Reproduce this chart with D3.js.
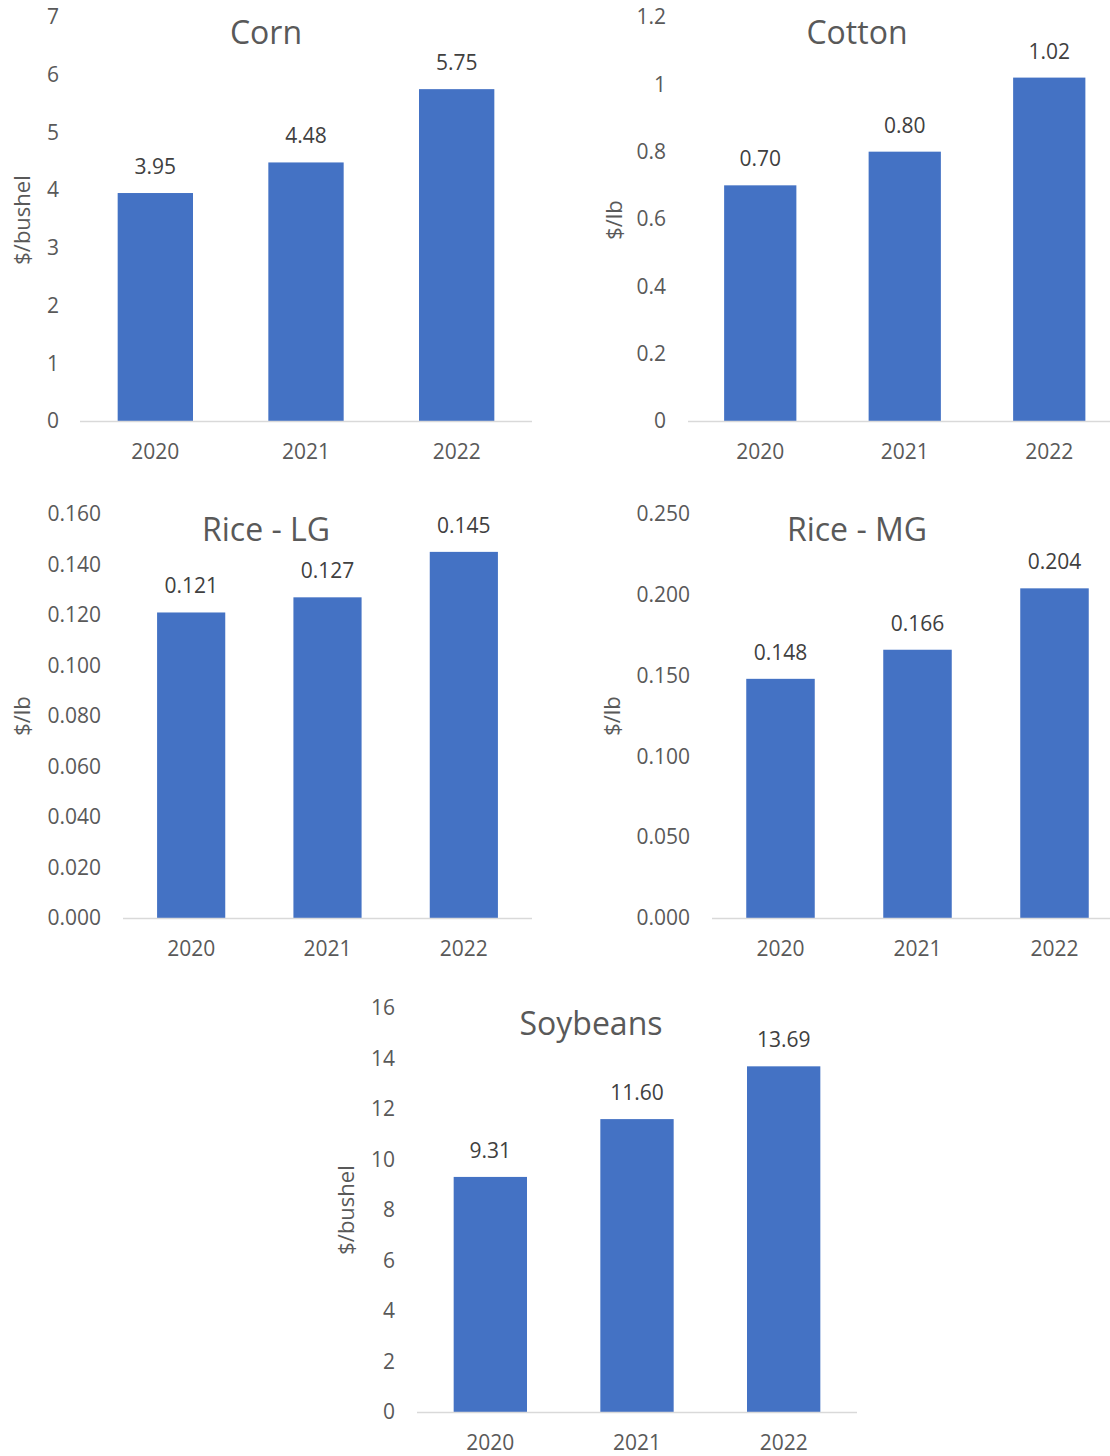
<!DOCTYPE html>
<html>
<head>
<meta charset="utf-8">
<script src="https://cdn.jsdelivr.net/npm/d3@7"></script>
<style>
  html, body { margin: 0; padding: 0; background: #ffffff; }
  svg { display: block; }
  text { font-family: "Open Sans", "Noto Sans", sans-serif; fill: #595959; }
</style>
</head>
<body>
<svg id="chart" width="1110" height="1456"></svg>
<script>
// Marketing-year prices by crop
const years = ["2020", "2021", "2022"];

const cornPrices = [3.95, 4.48, 5.75];
const cottonPrices = [0.70, 0.80, 1.02];
const riceLGPrices = [0.121, 0.127, 0.145];
const riceMGPrices = [0.148, 0.166, 0.204];
const soybeanPrices = [9.31, 11.60, 13.69];

const cornTicks = [0, 1, 2, 3, 4, 5, 6, 7];
const cottonTicks = [0, 0.2, 0.4, 0.6, 0.8, 1, 1.2];
const riceLGTicks = [0, 0.02, 0.04, 0.06, 0.08, 0.10, 0.12, 0.14, 0.16];
const riceMGTicks = [0, 0.05, 0.10, 0.15, 0.20, 0.25];
const soybeanTicks = [0, 2, 4, 6, 8, 10, 12, 14, 16];

const titles = ["Corn", "Cotton", "Rice - LG", "Rice - MG", "Soybeans"];
const units = ["$/bushel", "$/lb", "$/lb", "$/lb", "$/bushel"];

// Panel layout on the page
const panels = [
  { title: titles[0], unit: units[0], values: cornPrices, ticks: cornTicks,
    tickFmt: d3.format("d"), labelFmt: d3.format(".2f"),
    x0: 80, x1: 532, yZero: 421, yTop: 17, tickX: 59, unitX: 22, unitY: 220, titleX: 266, titleY: 33 },
  { title: titles[1], unit: units[1], values: cottonPrices, ticks: cottonTicks,
    tickFmt: d => String(+d.toFixed(1)), labelFmt: d3.format(".2f"),
    x0: 688, x1: 1121.5, yZero: 421, yTop: 17, tickX: 666, unitX: 614, unitY: 220, titleX: 857, titleY: 33 },
  { title: titles[2], unit: units[2], values: riceLGPrices, ticks: riceLGTicks,
    tickFmt: d3.format(".3f"), labelFmt: d3.format(".3f"),
    x0: 123, x1: 532, yZero: 918, yTop: 514, tickX: 101, unitX: 22, unitY: 716, titleX: 266, titleY: 530 },
  { title: titles[3], unit: units[3], values: riceMGPrices, ticks: riceMGTicks,
    tickFmt: d3.format(".3f"), labelFmt: d3.format(".3f"),
    x0: 712, x1: 1123, yZero: 918, yTop: 514, tickX: 690, unitX: 612, unitY: 716, titleX: 857, titleY: 530 },
  { title: titles[4], unit: units[4], values: soybeanPrices, ticks: soybeanTicks,
    tickFmt: d3.format("d"), labelFmt: d3.format(".2f"),
    x0: 417, x1: 857, yZero: 1412, yTop: 1008, tickX: 395, unitX: 346, unitY: 1210, titleX: 591, titleY: 1024 }
];

const svg = d3.select("#chart");
const barColor = "#4472C4";
const fontSize = 21;

panels.forEach(p => {
  const g = svg.append("g");
  const x = d3.scaleBand().domain(years).range([p.x0, p.x1])
    .paddingInner(0.5).paddingOuter(0.25);
  const y = d3.scaleLinear().domain([0, d3.max(p.ticks)]).range([p.yZero, p.yTop]);

  // y-axis tick labels (no axis line, no gridlines)
  const yAxis = d3.axisLeft(y).tickValues(p.ticks).tickFormat(p.tickFmt).tickSize(0).tickPadding(0);
  const ya = g.append("g").attr("transform", `translate(${p.tickX},0)`).call(yAxis);
  ya.select(".domain").remove();
  ya.selectAll("text").attr("font-size", fontSize).attr("font-family", null).style("fill", "#595959");

  // category axis: year labels under each bar
  const xAxis = d3.axisBottom(x).tickSize(0).tickPadding(0);
  const xa = g.append("g").attr("transform", `translate(0,${p.yZero})`).call(xAxis);
  xa.select(".domain").remove();
  xa.selectAll("text").attr("font-size", fontSize).attr("font-family", null)
    .attr("y", 38).attr("dy", null).style("fill", "#595959");

  // bars
  g.selectAll("rect.bar").data(p.values).join("rect")
    .attr("class", "bar")
    .attr("x", (d, i) => x(years[i]))
    .attr("width", x.bandwidth())
    .attr("y", d => y(d))
    .attr("height", d => y(0) - y(d))
    .attr("fill", barColor);

  // light baseline at zero
  g.append("line")
    .attr("x1", p.x0).attr("x2", p.x1)
    .attr("y1", y(0) + 0.5).attr("y2", y(0) + 0.5)
    .attr("stroke", "#D9D9D9").attr("stroke-width", 1.5);

  // value labels above bars
  g.selectAll("text.val").data(p.values).join("text")
    .attr("class", "val")
    .attr("x", (d, i) => x(years[i]) + x.bandwidth() / 2)
    .attr("y", d => y(d) - 19)
    .attr("text-anchor", "middle")
    .attr("font-size", fontSize)
    .style("fill", "#404040")
    .text(d => p.labelFmt(d));

  // chart title
  g.append("text")
    .attr("x", p.titleX).attr("y", p.titleY)
    .attr("dy", "0.35em")
    .attr("text-anchor", "middle")
    .attr("font-size", 32)
    .text(p.title);

  // unit label
  g.append("text")
    .attr("transform", `translate(${p.unitX},${p.unitY}) rotate(-90)`)
    .attr("dy", "0.35em")
    .attr("text-anchor", "middle")
    .attr("font-size", 22)
    .text(p.unit);
});
</script>
</body>
</html>
